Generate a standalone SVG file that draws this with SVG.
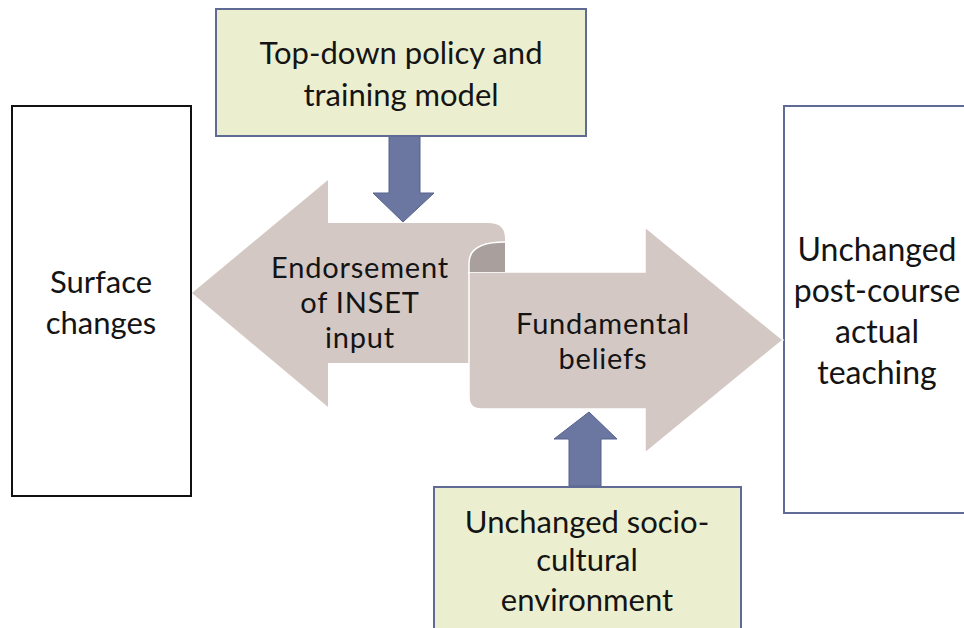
<svg xmlns="http://www.w3.org/2000/svg" width="964" height="628" viewBox="0 0 964 628">
<style>
  text { font-family: Lato, "Open Sans", "Liberation Sans", sans-serif; fill: #141414; text-anchor: middle; }
  .big { font-size: 31px; }
  .rbig { font-size: 32px; }
  .mid { font-size: 29px; letter-spacing: 0.8px; }
  .yellow { fill: #ecefcf; stroke: #5f6b94; stroke-width: 2; }
  .blue { fill: #6b77a1; stroke: #56628c; stroke-width: 1; }
  .beige { fill: #d3c8c4; }
</style>
<rect width="964" height="628" fill="#ffffff"/>

<g id="surface-changes">
  <rect x="12" y="106" width="179" height="390" fill="#ffffff" stroke="#111111" stroke-width="2"/>
  <text class="big" x="101" y="293">Surface</text>
  <text class="big" x="101" y="334">changes</text>
</g>

<g id="unchanged-teaching">
  <rect x="784" y="106" width="200" height="407" fill="#ffffff" stroke="#5f6b94" stroke-width="2"/>
  <text class="rbig" x="877" y="261">Unchanged</text>
  <text class="rbig" x="877" y="302">post-course</text>
  <text class="rbig" x="877" y="343">actual</text>
  <text class="rbig" x="877" y="384">teaching</text>
</g>

<g id="endorsement">
  <path class="beige" d="M192,293 L328,180 L328,223 L488,223 Q505,223 505,238 L505,363 L328,363 L328,407 Z"/>
</g>

<g id="fundamental-beliefs">
  <path class="beige" d="M469,272 L645,272 L645,227 L783,340 L645,453 L645,409 L481,409 Q469,409 469,397 Z" stroke="#ffffff" stroke-width="1.5"/>
  <path d="M505,242 C488,242 469,246 469,263 L469,272 L505,272 Z" fill="#a9a09d"/>
  <path d="M505,242 C488,242 469,246 469,263 L469,274" fill="none" stroke="#ffffff" stroke-width="1.5"/>
</g>

<g id="endorsement-text">
  <text class="mid" x="360" y="278">Endorsement</text>
  <text class="mid" x="360" y="313">of INSET</text>
  <text class="mid" x="360" y="348">input</text>
</g>
<g id="fundamental-text">
  <text class="mid" x="603" y="334">Fundamental</text>
  <text class="mid" x="603" y="369">beliefs</text>
</g>

<g id="connectors">
  <path class="blue" d="M389,136 L420,136 L420,193 L434,193 L403,222 L373,193 L389,193 Z"/>
  <path class="blue" d="M569,486 L601,486 L601,439 L617,439 L589,412 L554,439 L569,439 Z"/>
</g>

<g id="top-down-policy">
  <rect class="yellow" x="216" y="9" width="370" height="127"/>
  <text class="big" x="401" y="64">Top-down policy and</text>
  <text class="big" x="401" y="106">training model</text>
</g>

<g id="socio-cultural">
  <rect class="yellow" x="434" y="487" width="307" height="160"/>
  <text class="big" x="587" y="533">Unchanged socio-</text>
  <text class="big" x="587" y="571">cultural</text>
  <text class="big" x="587" y="611">environment</text>
</g>
</svg>
